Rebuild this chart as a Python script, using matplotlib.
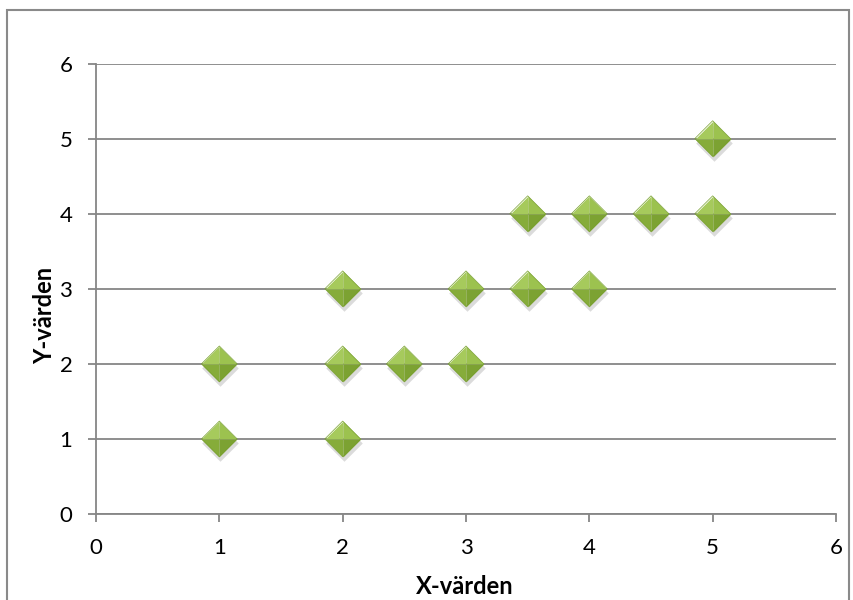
import matplotlib
matplotlib.use("Agg")
import matplotlib.pyplot as plt
from matplotlib.path import Path
from matplotlib.patches import Rectangle
from matplotlib import transforms

x_vals = [1, 1, 2, 2, 2, 2.5, 3, 3, 3.5, 3.5, 4, 4, 4.5, 5, 5]
y_vals = [1, 2, 1, 2, 3, 2, 2, 3, 3, 4, 3, 4, 4, 4, 5]
x_ticks = [0, 1, 2, 3, 4, 5, 6]
y_ticks = [0, 1, 2, 3, 4, 5, 6]
x_label = "X-värden"
y_label = "Y-värden"

plt.rcParams['font.family'] = ['Lato', 'DejaVu Sans']

fig = plt.figure(figsize=(8.54, 6.0), dpi=100)
fig.patches.append(Rectangle((7/854, -5/600), 842/854, 595/600, transform=fig.transFigure,
                             fill=False, edgecolor='#8a8a8a', linewidth=1.5))
ax = fig.add_axes([96/854, 86/600, 740/854, 450.5/600])
ax.set_xlim(0, 6)
ax.set_ylim(0, 6)
ax.set_xticks(x_ticks)
ax.set_yticks(y_ticks)
ax.yaxis.grid(True, color='#868686', linewidth=1.3)
ax.set_axisbelow(True)
for s in ['top', 'right']:
    ax.spines[s].set_visible(False)
for s in ['left', 'bottom']:
    ax.spines[s].set_color('#868686')
    ax.spines[s].set_linewidth(1.3)
ax.tick_params(axis='both', colors='#868686', length=6, width=1.3, labelcolor='black',
               labelsize=16, pad=11)

full = Path([(0, 1), (1, 0), (0, -1), (-1, 0), (0, 1)],
            [Path.MOVETO, Path.LINETO, Path.LINETO, Path.LINETO, Path.CLOSEPOLY])
def tri(pts):
    return Path(pts + [pts[0]], [Path.MOVETO, Path.LINETO, Path.LINETO, Path.CLOSEPOLY])
tl = tri([(0, 1), (-1, 0), (0, 0)])
tr = tri([(0, 1), (1, 0), (0, 0)])
bl = tri([(-1, 0), (0, -1), (0, 0)])
br = tri([(1, 0), (0, -1), (0, 0)])

ms = 660
shadow_off = transforms.offset_copy(ax.transData, fig=fig, x=1, y=-4, units='dots')
ax.scatter(x_vals, y_vals, marker=full, s=ms * 1.05, color='#8a8a8a', alpha=0.3,
           linewidths=0, transform=shadow_off, zorder=3)
ax.scatter(x_vals, y_vals, marker=tl, s=ms, color='#a6ca5c', linewidths=0, zorder=4)
ax.scatter(x_vals, y_vals, marker=tr, s=ms, color='#9cc24f', linewidths=0, zorder=4)
ax.scatter(x_vals, y_vals, marker=bl, s=ms, color='#86ac3a', linewidths=0, zorder=4)
ax.scatter(x_vals, y_vals, marker=br, s=ms, color='#7ca232', linewidths=0, zorder=4)
ax.scatter(x_vals, y_vals, marker=full, s=ms, facecolor='none', edgecolor='#78a030',
           linewidths=0.5, zorder=6)

fig.text(465/854, 13/600, x_label, fontsize=17, fontweight='bold', ha='center', va='center')
fig.text(45/854, 285/600, y_label, fontsize=17, fontweight='bold', ha='center', va='center',
         rotation=90)

fig.savefig("out.png", dpi=100)
